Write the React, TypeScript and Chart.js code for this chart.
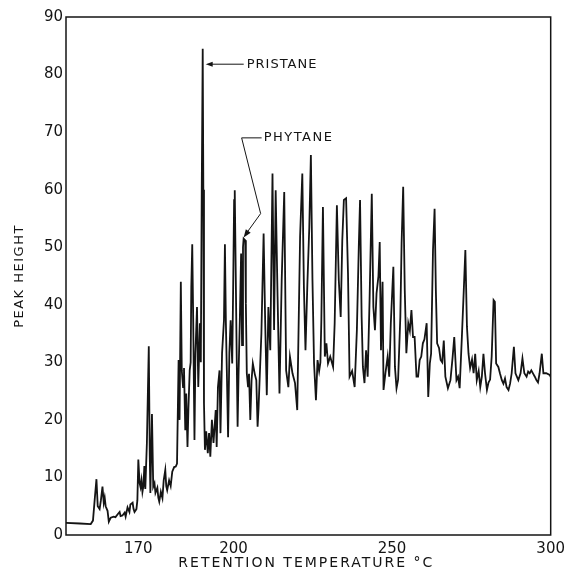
import React, { useEffect, useRef } from "react";
import { Chart, registerables } from "chart.js";

Chart.register(...registerables);

// ---- data ----
const temperatures: number[] = [
  147.2, 151.6, 155.0, 155.7, 156.3, 156.8, 157.2, 157.8, 158.2, 158.7, 159.1, 159.4, 159.7, 160.3, 160.7,
  161.3, 162.2, 162.8, 163.5, 164.1, 164.4, 165.0, 165.7, 166.0, 166.6, 167.2, 167.5, 168.2, 168.5, 168.8,
  169.4, 169.7, 170.0, 170.4, 170.7, 171.0, 171.3, 171.6, 171.9, 172.2, 172.7, 173.3, 173.6, 173.8, 174.3,
  174.7, 175.1, 175.4, 176.0, 176.3, 176.6, 177.1, 177.6, 178.0, 178.5, 178.8, 179.1, 179.7, 180.2, 180.7,
  181.3, 181.8, 182.2,
  182.7, 183.0, 183.4, 183.7, 184.1, 184.4, 184.8, 185.1, 185.5, 185.8, 186.2, 186.5, 186.7, 187.0, 187.3,
  187.7, 188.0, 188.5, 188.9, 189.4, 189.7, 190.0, 190.3, 190.5, 190.7, 191.0, 191.4, 191.9, 192.3, 192.7,
  193.2, 193.7, 194.4, 194.7, 195.1, 195.6, 195.9, 196.4, 197.0, 197.3, 197.6, 197.9, 198.3, 198.7, 199.1,
  199.6, 199.9, 200.2, 200.4, 200.7, 201.0, 201.3, 201.6, 202.0, 202.4, 202.7, 203.0, 203.2, 203.7, 203.9,
  204.2, 204.6, 204.9, 205.3, 205.7, 206.1, 206.7, 207.2, 207.6, 207.9,
  208.2, 208.8, 209.5, 210.0, 210.5, 211.0, 211.6, 212.3, 212.8, 213.3, 213.9, 214.5, 215.2, 216.0, 216.6,
  217.3, 217.8, 218.6, 219.4, 220.1, 221.0, 221.7, 222.2, 222.7, 223.3, 223.9, 224.4, 224.9, 225.4, 226.0,
  226.5, 227.0, 227.4, 227.7, 228.2, 228.8, 229.3, 229.8, 230.5, 231.4, 231.9, 232.6, 233.2, 233.8, 234.3,
  234.8, 235.5, 236.1, 236.6, 237.4, 238.2, 238.9, 239.5, 239.9, 240.4,
  240.8, 241.3, 241.8, 242.3, 242.9, 243.6, 244.1, 244.6, 245.1, 245.7, 246.1, 246.5, 247.0, 247.3, 247.9,
  248.6, 249.1, 249.6, 250.4, 250.9, 251.4, 251.9, 252.6, 253.0, 253.5, 254.0, 254.5, 255.1, 255.6, 256.1,
  256.6, 257.1, 257.7, 258.2, 258.7, 259.2, 259.7, 260.2, 260.9, 261.4, 261.9, 262.3, 262.9, 263.4, 263.8,
  264.2, 264.8, 265.3, 265.8, 266.3, 266.8, 267.6, 268.4, 269.1, 269.6, 270.3, 270.8, 271.3, 272.0, 272.6,
  273.1, 273.6,
  274.1, 274.6, 275.2, 275.7, 276.2, 276.7, 277.3, 277.8, 278.3, 278.8, 279.3, 279.9, 280.4, 280.9, 281.4,
  282.0, 282.4, 282.8, 283.5, 284.0, 284.6, 285.1, 285.6, 286.1, 286.7, 287.2, 287.7, 288.4, 288.9, 289.8,
  290.5, 291.1, 291.7, 292.4, 292.9, 293.4, 293.9, 294.5, 295.0, 295.5, 296.0, 296.5, 297.2, 297.7, 298.6,
  299.7, 300.0,
];

const peakHeights: number[] = [
  2.1, 2.0, 1.9, 2.5, 6.5, 9.7, 5.0, 4.5, 6.0, 8.4, 5.6, 6.5, 5.0, 4.2, 2.3,
  3.0, 3.2, 3.1, 3.6, 4.0, 3.3, 3.4, 3.9, 3.2, 4.8, 4.0, 5.3, 5.6, 4.5, 4.0,
  4.5, 6.0, 13.1, 9.0, 8.3, 9.5, 7.5, 8.5, 12.0, 8.0, 16.0, 32.8, 14.0, 7.3, 21.0,
  8.4, 9.0, 7.3, 8.2, 6.5, 5.8, 7.5, 6.4, 9.5, 11.3, 8.5, 7.8, 9.5, 8.5, 11.0,
  11.8, 11.9, 12.4,
  30.4, 20.0, 44.0, 28.6, 25.7, 29.0, 18.2, 24.6, 15.3, 22.0, 28.6, 30.0, 43.1, 50.5, 37.3,
  16.5, 31.5, 39.6, 25.7, 36.8, 30.0, 60.5, 84.5, 60.0, 22.9, 14.8, 18.0, 14.2, 17.7, 13.6,
  20.0, 16.0, 21.7, 15.3, 25.7, 28.6, 17.7, 31.6, 37.3, 50.5, 37.0, 28.6, 17.0, 31.6, 37.3,
  29.8, 43.1, 58.2, 59.9, 46.0, 31.6, 18.8, 28.0, 37.3, 48.9, 33.0, 50.0, 51.5, 51.2, 40.2,
  28.1, 25.7, 28.0, 20.0, 26.9, 29.8, 28.0, 26.9, 18.8, 22.0,
  26.4, 35.0, 52.4, 36.8, 24.3, 39.6, 32.1, 62.8, 35.6, 59.9, 41.4, 24.6, 44.3, 59.6, 28.6,
  25.7, 31.0, 28.1, 26.4, 21.7, 51.8, 62.8, 43.1, 32.1, 43.7, 53.5, 66.0, 44.3, 29.8, 23.4,
  30.4, 28.5, 30.0, 37.3, 57.0, 31.0, 33.3, 29.8, 31.0, 29.2, 36.8, 57.3, 44.3, 37.9, 51.2,
  58.2, 58.5, 45.5, 27.5, 28.5, 25.7, 35.6, 50.0, 58.2, 37.9,
  29.2, 26.4, 32.1, 27.5, 40.8, 59.3, 39.6, 35.6, 42.0, 45.0, 50.9, 32.1, 44.0, 25.2, 28.1,
  31.0, 27.5, 36.8, 46.6, 29.2, 25.5, 27.0, 37.9, 50.7, 60.5, 42.5, 31.6, 36.8, 35.5, 39.1,
  34.4, 34.4, 27.5, 27.5, 30.4, 31.0, 33.3, 34.0, 36.8, 24.0, 29.8, 31.5, 49.5, 56.7, 42.5,
  33.3, 32.5, 30.4, 30.0, 33.8, 27.5, 25.5, 26.9, 31.0, 34.4, 26.9, 27.5, 25.5, 34.4, 42.5,
  49.5, 36.2,
  31.5, 29.0, 30.5, 28.1, 31.5, 26.9, 28.5, 25.7, 27.5, 31.5, 28.1, 25.2, 26.5, 27.0, 31.0,
  40.8, 40.5, 29.8, 29.2, 28.1, 26.9, 26.3, 27.2, 25.7, 25.2, 26.3, 28.1, 32.7, 28.1, 26.9,
  28.1, 30.7, 28.1, 27.5, 28.4, 28.1, 28.6, 28.0, 27.5, 26.9, 26.5, 28.1, 31.5, 28.1, 28.1,
  27.8, 27.5,
];

const xTickValues: number[] = [170, 200, 250, 300];
const yTickValues: number[] = [0, 10, 20, 30, 40, 50, 60, 70, 80, 90];

const xAxisTitle = "RETENTION TEMPERATURE °C";
const yAxisTitle = "PEAK HEIGHT";

// labelled peaks: [temperature, height]
const pristanePeak: number[] = [190.3, 84.5];
const pristaneLabelHeight = 81.8;
const phytanePeak: number[] = [203.2, 51.5];
const phytaneLabelHeight = 69.0;

const INK = "#141414";
const FONT = "'DejaVu Sans', 'Liberation Sans', sans-serif";

function arrowHead(ctx: CanvasRenderingContext2D, fx: number, fy: number, tx: number, ty: number, len: number, half: number) {
  const ang = Math.atan2(ty - fy, tx - fx);
  ctx.beginPath();
  ctx.moveTo(tx, ty);
  ctx.lineTo(tx - len * Math.cos(ang) + half * Math.sin(ang), ty - len * Math.sin(ang) - half * Math.cos(ang));
  ctx.lineTo(tx - len * Math.cos(ang) - half * Math.sin(ang), ty - len * Math.sin(ang) + half * Math.cos(ang));
  ctx.closePath();
  ctx.fill();
}

const overlayPlugin = {
  id: "overlay",
  afterDraw(chart: any) {
    const { ctx, chartArea: a, scales } = chart;
    const x = scales.x;
    const y = scales.y;
    ctx.save();
    // frame
    ctx.strokeStyle = INK;
    ctx.lineWidth = 1.5;
    ctx.strokeRect(a.left, a.top, a.right - a.left, a.bottom - a.top);

    ctx.fillStyle = INK;
    ctx.textBaseline = "middle";
    // x title
    ctx.font = `14px ${FONT}`;
    (ctx as any).letterSpacing = "2px";
    ctx.textAlign = "center";
    ctx.fillText(xAxisTitle, (a.left + a.right) / 2 - 2, a.bottom + 28);
    // y title
    ctx.save();
    ctx.translate(20, (a.top + a.bottom) / 2);
    ctx.rotate(-Math.PI / 2);
    ctx.font = `13px ${FONT}`;
    (ctx as any).letterSpacing = "1.5px";
    ctx.fillText(yAxisTitle, 0, 0);
    ctx.restore();

    // PRISTANE annotation
    ctx.lineWidth = 1;
    const px = x.getPixelForValue(pristanePeak[0]);
    const py = y.getPixelForValue(pristaneLabelHeight);
    ctx.beginPath();
    ctx.moveTo(px + 41, py);
    ctx.lineTo(px + 8, py);
    ctx.stroke();
    arrowHead(ctx, px + 41, py, px + 3, py, 7, 2.5);
    ctx.font = `13px ${FONT}`;
    (ctx as any).letterSpacing = "1px";
    ctx.textAlign = "left";
    ctx.fillText("PRISTANE", px + 44, py);

    // PHYTANE annotation
    const hx = x.getPixelForValue(phytanePeak[0]);
    const hy = y.getPixelForValue(phytanePeak[1]);
    const ty = y.getPixelForValue(phytaneLabelHeight);
    ctx.beginPath();
    ctx.moveTo(hx + 18, ty);
    ctx.lineTo(hx - 2, ty);
    ctx.lineTo(hx + 17, hy - 25);
    ctx.lineTo(hx + 4, hy - 7);
    ctx.stroke();
    arrowHead(ctx, hx + 17, hy - 25, hx, hy - 1, 8, 3);
    (ctx as any).letterSpacing = "1.5px";
    ctx.fillText("PHYTANE", hx + 20, ty);
    ctx.restore();
  },
};

export default function App() {
  const canvasRef = useRef<HTMLCanvasElement | null>(null);

  useEffect(() => {
    document.body.style.margin = "0";
    const canvas = canvasRef.current;
    if (!canvas) return;
    const points = temperatures.map((t, i) => ({ x: t, y: peakHeights[i] }));
    const chart = new Chart(canvas, {
      type: "line",
      data: {
        datasets: [
          {
            data: points,
            borderColor: INK,
            borderWidth: 1.8,
            pointRadius: 0,
            tension: 0,
            fill: false,
          },
        ],
      },
      options: {
        animation: false,
        responsive: false,
        devicePixelRatio: 1,
        layout: { padding: { left: 0, top: 17, right: 15, bottom: 0 } },
        plugins: { legend: { display: false }, tooltip: { enabled: false } },
        scales: {
          x: {
            type: "linear",
            min: 147.2,
            max: 300,
            grid: { display: false, drawTicks: false },
            border: { display: false },
            ticks: { color: INK, font: { family: FONT, size: 15 }, padding: 5, maxRotation: 0 },
            afterBuildTicks: (s: any) => {
              s.ticks = xTickValues.map((v) => ({ value: v }));
            },
            afterFit: (s: any) => {
              s.height = 39;
            },
          },
          y: {
            type: "linear",
            min: 0,
            max: 90,
            grid: { display: false, drawTicks: false },
            border: { display: false },
            ticks: { color: INK, font: { family: FONT, size: 15 }, padding: 3 },
            afterBuildTicks: (s: any) => {
              s.ticks = yTickValues.map((v) => ({ value: v }));
            },
            afterFit: (s: any) => {
              s.width = 66;
            },
          },
        },
      },
      plugins: [overlayPlugin],
    });
    return () => chart.destroy();
  }, []);

  return (
    <div style={{ position: "fixed", left: 0, top: 0, width: 570, height: 574, background: "#fff" }}>
      <canvas ref={canvasRef} width={570} height={574} style={{ display: "block" }} />
    </div>
  );
}
